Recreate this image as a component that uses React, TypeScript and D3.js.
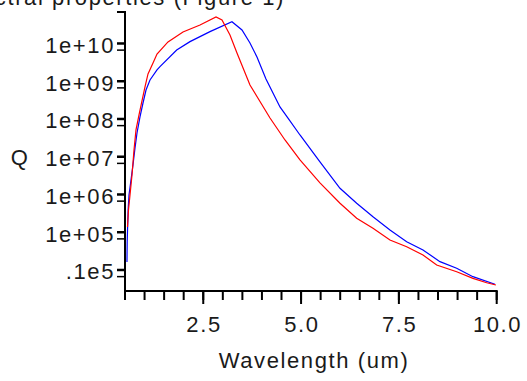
import React from "react";
import * as d3 from "d3";

// Wavelength (um) and Q values
const redWavelength = [0.564, 0.589, 0.628, 0.679, 0.73, 0.781, 0.858, 0.934, 1.011, 1.088, 1.216, 1.318, 1.599, 1.982, 2.417, 2.826, 2.979, 3.183, 3.362, 3.694, 4.206, 4.589, 4.972, 5.483, 5.995, 6.421, 6.838, 7.272, 7.699, 8.116, 8.466, 8.977, 9.393, 9.744, 9.98];
const redQ = [1.38e5, 3.88e5, 9.7e5, 3.29e6, 1.51e7, 5.12e7, 1.28e8, 3.0e8, 7.05e8, 1.56e9, 3.04e9, 5.27e9, 1.1e10, 2.02e10, 3.09e10, 5.04e10, 4.2e10, 1.68e10, 5.6e9, 7.96e8, 1.06e8, 2.78e7, 8.2e6, 2.02e6, 5.85e5, 2.34e5, 1.27e5, 6.24e4, 4.14e4, 2.49e4, 1.36e4, 9.0e3, 6.0e3, 4.6e3, 4.0e3];

const blueWavelength = [0.55, 0.556, 0.566, 0.58, 0.602, 0.653, 0.704, 0.756, 0.807, 0.883, 0.96, 1.037, 1.139, 1.318, 1.394, 1.821, 2.161, 2.672, 3.234, 3.49, 3.694, 3.873, 4.103, 4.461, 4.666, 4.972, 5.483, 5.995, 6.421, 6.838, 7.272, 7.699, 8.116, 8.55, 8.977, 9.393, 9.956];
const blueQ = [1.62e4, 5.6e4, 1.26e5, 3.9e5, 9.7e5, 2.42e6, 6.04e6, 1.71e7, 4.26e7, 1.13e8, 2.65e8, 5.86e8, 1.08e9, 1.99e9, 2.43e9, 6.73e9, 1.12e10, 2.06e10, 3.78e10, 2.28e10, 1.03e10, 4.39e9, 1.15e9, 2.08e8, 1.06e8, 3.77e7, 7.26e6, 1.46e6, 5.85e5, 2.58e5, 1.15e5, 5.62e4, 3.39e4, 1.66e4, 1.11e4, 6.65e3, 4.18e3];

const yTickValues = [1e4, 1e5, 1e6, 1e7, 1e8, 1e9, 1e10];
const yTickLabels = [".1e5", "1e+05", "1e+06", "1e+07", "1e+08", "1e+09", "1e+10"];
const xMajorTicks = [2.5, 5.0, 7.5, 10.0];
const xTickLabels = ["2.5", "5.0", "7.5", "10.0"];
const xMinorTicks = d3.range(0.5, 10.01, 0.5);

const xDomain = [0.5, 10];
const yDomain = [2950, 6.82e10];

const FONT = "'Liberation Sans', Arial, sans-serif";

export default function App() {
  const x = d3.scaleLinear().domain(xDomain).range([125, 496.7]);
  const y = d3.scaleLog().domain(yDomain).range([290, 12]);

  const line = d3
    .line<[number, number]>()
    .x((d) => x(d[0]))
    .y((d) => y(d[1]));

  const red = redWavelength.map((w, i) => [w, redQ[i]] as [number, number]);
  const blue = blueWavelength.map((w, i) => [w, blueQ[i]] as [number, number]);

  const axisX = x(0.5);
  const axisY = 291;

  const textStyle = { fontFamily: FONT, fontSize: 22, letterSpacing: 1.6, fill: "#1a1a1a" } as any;

  return (
    <svg
      width={527}
      height={381}
      style={{ position: "absolute", left: 0, top: 0, background: "#fff" }}
    >
      <rect width={527} height={381} fill="#fff" />
      {/* title, clipped at the top edge as in the reference */}
      <text x={285} y={4.5} textAnchor="end" style={textStyle}>
        Spectral properties (Figure 1)
      </text>

      {/* curves */}
      <path d={line(blue) || ""} fill="none" stroke="#0000ff" strokeWidth={1.2} />
      <path d={line(red) || ""} fill="none" stroke="#ff0000" strokeWidth={1.2} />

      {/* y axis */}
      <line x1={axisX} x2={axisX} y1={y(yDomain[1])} y2={axisY + 1} stroke="#000" strokeWidth={2} />
      <line x1={117} x2={axisX + 1} y1={y(yDomain[1])} y2={y(yDomain[1])} stroke="#000" strokeWidth={2} />
      {yTickValues.map((v, i) => (
        <g key={"yt" + i}>
          <line x1={117} x2={axisX} y1={y(v)} y2={y(v)} stroke="#000" strokeWidth={2.5} />
          <line x1={117} x2={axisX} y1={y(v / 1.5)} y2={y(v / 1.5)} stroke="#000" strokeWidth={1.5} />
          <text x={115} y={y(v)} dy={9.5} textAnchor="end" style={textStyle}>
            {yTickLabels[i]}
          </text>
        </g>
      ))}
      <text x={20} y={y(1e7)} dy={8} textAnchor="middle" style={textStyle}>
        Q
      </text>

      {/* x axis */}
      <line x1={axisX - 1} x2={x(10) + 1} y1={axisY} y2={axisY} stroke="#000" strokeWidth={2} />
      {xMinorTicks.map((v, i) => (
        <line key={"xm" + i} x1={x(v)} x2={x(v)} y1={axisY} y2={axisY + 9} stroke="#000" strokeWidth={2} />
      ))}
      {xMajorTicks.map((v, i) => (
        <g key={"xM" + i}>
          <line x1={x(v)} x2={x(v)} y1={axisY} y2={axisY + 13} stroke="#000" strokeWidth={2} />
          <text x={x(v) + 0.8} y={331.5} textAnchor="middle" style={textStyle}>
            {xTickLabels[i]}
          </text>
        </g>
      ))}
      <text x={314} y={368} textAnchor="middle" style={textStyle}>
        Wavelength (um)
      </text>
    </svg>
  );
}
